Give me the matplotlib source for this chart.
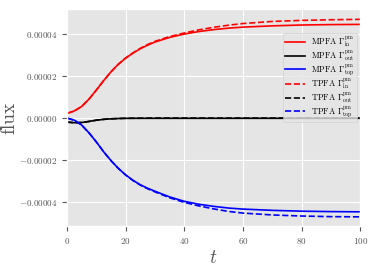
import numpy as np
import matplotlib
matplotlib.use('Agg')
import matplotlib.pyplot as plt
from matplotlib.ticker import FuncFormatter

plt.style.use('ggplot')
plt.rcParams['font.family'] = 'serif'
plt.rcParams['font.serif'] = ['cmr10', 'DejaVu Serif']
plt.rcParams['mathtext.fontset'] = 'cm'
plt.rcParams['axes.unicode_minus'] = False

# time samples
t = [0, 2.5, 5, 7.5, 10, 12.5, 15, 17.5, 20, 22.5, 25, 27.5, 30, 35, 40, 45, 50, 55, 60, 70, 80, 90, 100]

# MPFA fluxes
mpfa_in = [2.2e-6, 3.4e-6, 5.5e-6, 9.0e-6, 1.33e-5, 1.78e-5, 2.2e-5, 2.56e-5, 2.85e-5,
           3.09e-5, 3.3e-5, 3.47e-5, 3.62e-5, 3.84e-5, 4.0e-5, 4.12e-5, 4.21e-5, 4.28e-5, 4.33e-5,
           4.39e-5, 4.43e-5, 4.45e-5, 4.46e-5]
mpfa_out = [-1.9e-6, -2.2e-6, -2.1e-6, -1.6e-6, -1.0e-6, -0.6e-6, -0.35e-6, -0.2e-6, -0.12e-6,
            -0.1e-6, -0.1e-6, -0.1e-6, -0.1e-6, -0.1e-6, -0.1e-6, -0.1e-6, -0.1e-6, -0.1e-6, -0.1e-6,
            -0.1e-6, -0.1e-6, -0.1e-6, -0.1e-6]
mpfa_top = [0.0, -1.0e-6, -3.3e-6, -7.0e-6, -1.13e-5, -1.6e-5, -2.02e-5, -2.39e-5, -2.7e-5,
            -2.96e-5, -3.17e-5, -3.34e-5, -3.48e-5, -3.75e-5, -3.96e-5, -4.1e-5, -4.2e-5, -4.28e-5, -4.33e-5,
            -4.39e-5, -4.43e-5, -4.45e-5, -4.46e-5]

# TPFA fluxes
tpfa_in = [2.2e-6, 3.4e-6, 5.5e-6, 9.0e-6, 1.33e-5, 1.78e-5, 2.2e-5, 2.56e-5, 2.86e-5,
           3.1e-5, 3.32e-5, 3.5e-5, 3.65e-5, 3.88e-5, 4.05e-5, 4.2e-5, 4.32e-5, 4.42e-5, 4.5e-5,
           4.6e-5, 4.65e-5, 4.68e-5, 4.7e-5]
tpfa_out = [-1.9e-6, -2.2e-6, -2.1e-6, -1.6e-6, -1.0e-6, -0.6e-6, -0.35e-6, -0.2e-6, -0.1e-6,
            -0.07e-6, -0.05e-6, -0.02e-6, 0.0, 0.0, 0.0, 0.0, 0.0, 0.0, 0.0,
            0.0, 0.0, 0.0, 0.0]
tpfa_top = [0.0, -1.0e-6, -3.3e-6, -7.0e-6, -1.13e-5, -1.6e-5, -2.02e-5, -2.39e-5, -2.71e-5,
            -2.97e-5, -3.19e-5, -3.36e-5, -3.51e-5, -3.79e-5, -4.01e-5, -4.18e-5, -4.32e-5, -4.44e-5, -4.52e-5,
            -4.61e-5, -4.66e-5, -4.69e-5, -4.7e-5]

fig = plt.figure(figsize=(3.74, 2.66), dpi=100)
ax = fig.add_axes([0.179, 0.150, 0.784, 0.816])

lw = 1.2
ax.plot(t, mpfa_in, color='red', lw=lw, label=r'MPFA $\Gamma^{\rm pm}_{\rm in}$')
ax.plot(t, mpfa_out, color='black', lw=lw, label=r'MPFA $\Gamma^{\rm pm}_{\rm out}$')
ax.plot(t, mpfa_top, color='blue', lw=lw, label=r'MPFA $\Gamma^{\rm pm}_{\rm top}$')
ax.plot(t, tpfa_in, color='red', lw=lw, ls='--', label=r'TPFA $\Gamma^{\rm pm}_{\rm in}$')
ax.plot(t, tpfa_out, color='black', lw=lw, ls='--', label=r'TPFA $\Gamma^{\rm pm}_{\rm out}$')
ax.plot(t, tpfa_top, color='blue', lw=lw, ls='--', label=r'TPFA $\Gamma^{\rm pm}_{\rm top}$')

ax.set_xlim(0, 100)
ax.set_ylim(-5.14e-5, 5.19e-5)
ax.set_yticks([-4e-5, -2e-5, 0, 2e-5, 4e-5])
ax.set_xticks([0, 20, 40, 60, 80, 100])
ax.yaxis.set_major_formatter(FuncFormatter(lambda v, p: r'$%.5f$' % v if abs(v) > 1e-12 else r'$0.00000$'))
ax.xaxis.set_major_formatter(FuncFormatter(lambda v, p: r'$%d$' % v))
ax.tick_params(labelsize=6.5, colors='#555555')

ax.set_xlabel(r'$t$', fontsize=14, color='#555555')
ax.set_ylabel('flux', fontsize=14, color='#555555')
ax.yaxis.set_label_coords(-0.165, 0.5)
ax.xaxis.set_label_coords(0.5, -0.105)

ax.legend(loc='upper right', bbox_to_anchor=(0.99, 0.89), borderaxespad=0, fontsize=6,
          handlelength=2.4, labelspacing=0.0, borderpad=0.3, handletextpad=0.7)

fig.savefig('out.png', dpi=100)
